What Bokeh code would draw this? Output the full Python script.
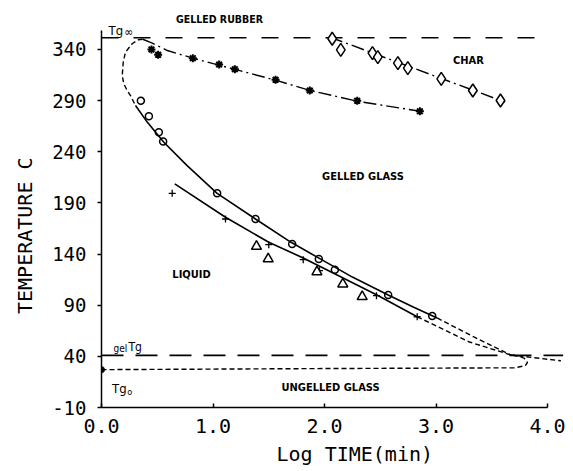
from bokeh.plotting import figure
from bokeh.models import Range1d, Label, FixedTicker, NumeralTickFormatter, Title
from bokeh.embed import file_html
from bokeh.resources import INLINE

# Characteristic temperatures (deg C)
tg_inf = 351.5
gel_tg = 41.0
tg0 = 27.0

# Measured points: log10 time (min) vs temperature (C)
ast_logt = [0.448, 0.508, 0.819, 1.055, 1.196, 1.561, 1.868, 2.293, 2.855]
ast_temp = [340.0, 334.8, 331.5, 325.3, 320.7, 310.4, 299.9, 289.8, 279.6]

circ_logt = [0.353, 0.425, 0.514, 0.553, 1.037, 1.381, 1.710, 1.949, 2.093, 2.571, 2.966]
circ_temp = [289.8, 274.7, 259.1, 250.0, 199.4, 174.3, 149.9, 135.2, 124.7, 100.0, 79.4]

plus_logt = [0.634, 1.112, 1.500, 1.809, 1.955, 2.466, 2.831]
plus_temp = [199.4, 174.3, 149.2, 134.5, 123.8, 99.3, 78.7]

tri_logt = [1.390, 1.495, 1.932, 2.164, 2.338]
tri_temp = [147.5, 135.2, 122.5, 110.7, 98.3]

dia_logt = [2.069, 2.146, 2.430, 2.478, 2.658, 2.747, 3.047, 3.330, 3.578]
dia_temp = [350.5, 339.7, 336.4, 332.5, 326.6, 321.7, 311.3, 299.9, 290.1]

# Hand-fitted curves
upper_dd_logt = [0.37, 0.45, 0.59, 0.82, 1.06, 1.20, 1.56, 1.87, 2.29, 2.86]
upper_dd_temp = [350.0, 346.5, 339.0, 331.5, 324.5, 320.5, 310.0, 300.0, 289.5, 279.6]

char_logt = [2.05, 3.62]
char_temp = [352.0, 288.5]

vit_c_logt = [0.37, 0.33, 0.275, 0.215, 0.195, 0.186, 0.20, 0.23, 0.26, 0.305]
vit_c_temp = [350.0, 349.5, 345.6, 337.4, 327.6, 314.6, 306.4, 300.0, 295.0, 285.2]

vit_logt = [0.305, 0.41, 0.559, 0.768, 1.037, 1.381, 1.70, 1.95, 2.25, 2.571, 2.80, 3.01]
vit_temp = [285.2, 269.0, 249.3, 226.5, 199.4, 174.3, 151.5, 136.0, 117.5, 100.0, 88.0, 77.5]

vit_tail_logt = [3.01, 3.34, 3.668]
vit_tail_temp = [77.5, 59.0, 41.5]

low_logt = [0.657, 1.112, 1.50, 1.809, 2.466, 2.831]
low_temp = [208.6, 176.0, 151.5, 136.2, 100.3, 78.7]

low_tail_logt = [2.831, 3.30, 3.668]
low_tail_temp = [78.7, 54.0, 41.5]

tg0_path_logt = [0.0, 1.85, 3.70, 3.80, 3.82, 3.79, 3.713, 3.668]
tg0_path_temp = [27.0, 28.0, 28.8, 30.8, 34.0, 38.3, 40.6, 41.5]

right_dot_logt = [3.668, 3.75, 4.12]
right_dot_temp = [41.5, 40.3, 35.7]

x_ticks = [0, 1, 2, 3, 4]
y_ticks = [-10, 40, 90, 140, 190, 240, 290, 340]

p = figure(width=573, height=471, output_backend="svg", toolbar_location=None,
           x_range=Range1d(0, 4.206), y_range=Range1d(-10, 383),
           min_border_left=101, min_border_right=3, min_border_top=5,
           min_border_bottom=64)
p.outline_line_color = None
p.grid.visible = False
p.background_fill_color = "white"

# axes
p.xaxis.bounds = (0, 4)
p.yaxis.bounds = (-10, 359)
p.xaxis.ticker = FixedTicker(ticks=x_ticks)
p.yaxis.ticker = FixedTicker(ticks=y_ticks)
p.xaxis.formatter = NumeralTickFormatter(format="0.0")
p.yaxis.formatter = NumeralTickFormatter(format="0")
for ax in (p.xaxis, p.yaxis):
    ax.axis_line_width = 1.5
    ax.axis_line_color = "black"
    ax.major_tick_line_width = 1.5
    ax.major_tick_line_color = "black"
    ax.minor_tick_line_color = None
    ax.major_label_text_font = "DejaVu Sans Mono"
    ax.major_label_text_color = "black"
p.xaxis.major_tick_in = 4
p.xaxis.major_tick_out = 0
p.xaxis.major_label_standoff = 11
p.xaxis.major_label_text_font_size = "20px"
p.yaxis.major_tick_in = 0
p.yaxis.major_tick_out = 4
p.yaxis.major_label_standoff = 11
p.yaxis.major_label_text_font_size = "19px"

# axis titles
def axis_title(text, offset, standoff, valign):
    return Title(text=text, align="left", offset=offset, standoff=standoff,
                 vertical_align=valign, text_font="DejaVu Sans Mono",
                 text_font_size="20px", text_font_style="normal", text_color="black")

p.add_layout(axis_title("TEMPERATURE C", 93.5, 22, "top"), "left")
p.add_layout(axis_title("Log TIME(min)", 175, 8, "bottom"), "below")

# reference temperature lines
p.line([0, 4.0], [tg_inf, tg_inf], line_color="black", line_width=1.6, line_dash="17 15")
p.line([0, 4.14], [gel_tg, gel_tg], line_color="black", line_width=1.6, line_dash="22 12")

dot = "5 3"
dashdot = "13 4 2 4"
# curves
p.line(upper_dd_logt, upper_dd_temp, line_color="black", line_width=1.4, line_dash=dashdot)
p.line(char_logt, char_temp, line_color="black", line_width=1.4, line_dash=dashdot)
p.line(vit_c_logt, vit_c_temp, line_color="black", line_width=1.4, line_dash=dot)
p.line(vit_logt, vit_temp, line_color="black", line_width=1.6)
p.line(vit_tail_logt, vit_tail_temp, line_color="black", line_width=1.4, line_dash=dot)
p.line(low_logt, low_temp, line_color="black", line_width=1.6)
p.line(low_tail_logt, low_tail_temp, line_color="black", line_width=1.4, line_dash=dot)
p.line(tg0_path_logt, tg0_path_temp, line_color="black", line_width=1.4, line_dash=dot)
p.line(right_dot_logt, right_dot_temp, line_color="black", line_width=1.4, line_dash=dot)

# measured points
p.scatter(ast_logt, ast_temp, marker="asterisk", size=8, line_color="black", line_width=2)
p.scatter(circ_logt, circ_temp, marker="circle", size=7, line_color="black",
          fill_color=None, line_width=1.5)
p.scatter(plus_logt, plus_temp, marker="cross", size=7, line_color="black", line_width=1.3)
p.scatter(tri_logt, tri_temp, marker="triangle", size=10, line_color="black",
          fill_color="white", line_width=1.5)
p.scatter(dia_logt, dia_temp, marker="diamond", size=13, line_color="black",
          fill_color="white", line_width=1.5)
p.scatter([0.0], [tg0], marker="circle", size=6, color="black")

region_font = "'Liberation Sans Narrow', 'DejaVu Sans Condensed', 'Arial Narrow', sans-serif"

def region(x, y, text, size="11px"):
    p.add_layout(Label(x=x, y=y, text=text, text_font=region_font, text_font_style="bold",
                       text_font_size=size, text_align="center", text_baseline="middle",
                       text_color="black"))

region(1.058, 369.4, "GELLED RUBBER", "10.5px")
region(3.29, 329.2, "CHAR")
region(2.345, 215.7, "GELLED GLASS")
region(0.807, 119.8, "LIQUID")
region(2.054, 9.6, "UNGELLED GLASS")

sym_font = "'DejaVu Sans Condensed', 'Liberation Sans Narrow', sans-serif"

def sym(x, y, text, size, align="left"):
    p.add_layout(Label(x=x, y=y, text=text, text_font=sym_font, text_font_size=size,
                       text_align=align, text_baseline="alphabetic", text_color="black"))

sym(0.063, 358.6, "Tg", "13px")
sym(0.205, 357.0, "\u221e", "12px")
sym(0.108, 47.4, "gel", "10px")
sym(0.242, 49.4, "Tg", "12px")
sym(0.095, 8.3, "Tg", "13px")
sym(0.232, 5.6, "o", "9px")

open("out.html", "w").write(file_html(p, INLINE))
